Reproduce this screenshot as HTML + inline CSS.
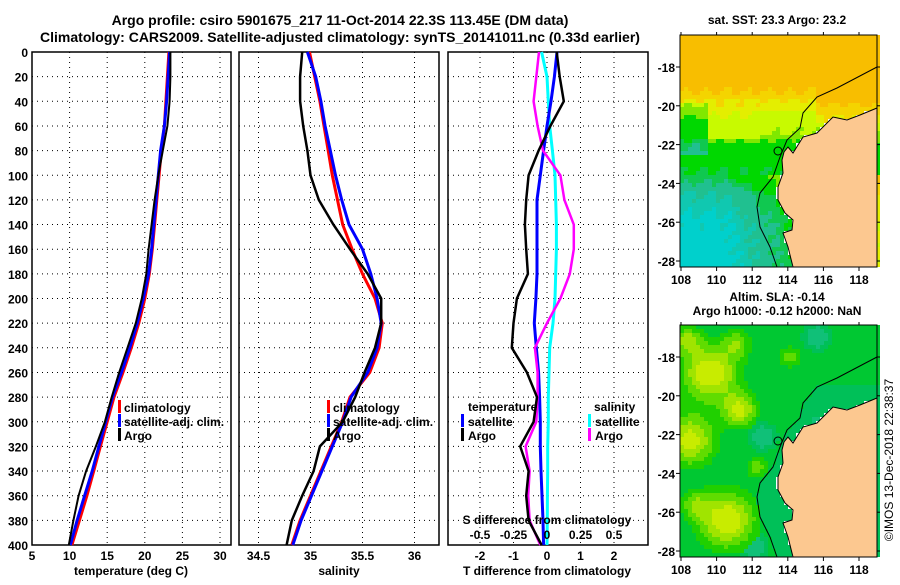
<!DOCTYPE html>
<html><head><meta charset="utf-8"><style>
body{margin:0;background:#fff;width:900px;height:580px;overflow:hidden}
svg text{font-family:"Liberation Sans",sans-serif;font-weight:bold;fill:#000}
</style></head><body>
<svg id="s" width="900" height="580" xmlns="http://www.w3.org/2000/svg">
<text x="340" y="25" font-size="14" text-anchor="middle">Argo profile: csiro 5901675_217 11-Oct-2014 22.3S 113.45E (DM data)</text>
<text x="340" y="42" font-size="14" text-anchor="middle">Climatology: CARS2009. Satellite-adjusted climatology: synTS_20141011.nc (0.33d earlier)</text>
<text x="777" y="24" font-size="12" text-anchor="middle">sat. SST: 23.3 Argo: 23.2</text>
<text x="777" y="301" font-size="12" text-anchor="middle">Altim. SLA: -0.14</text>
<text x="777" y="315" font-size="12" text-anchor="middle">Argo h1000: -0.12 h2000: NaN</text>
<text transform="translate(893,460) rotate(-90)" font-size="12" text-anchor="middle" style="font-weight:normal">©IMOS 13-Dec-2018 22:38:37</text>
</svg>
<script>
const depths=[0,20,40,60,80,100,120,140,160,180,200,220,240,260,280,300,320,340,360,380,400];
const tClim=[23.2,23.0,22.8,22.6,22.2,21.9,21.6,21.3,21.0,20.6,20.0,19.2,18.2,17.1,15.9,15.0,14.1,13.2,12.3,11.3,10.3];
const tSat=[23.3,23.1,22.9,22.6,22.1,21.8,21.5,21.2,20.9,20.5,19.8,19.0,18.0,16.9,15.7,14.8,13.9,13.0,12.0,11.0,10.1];
const tArgo=[23.4,23.4,23.3,23.0,22.4,21.8,21.3,20.9,20.5,20.2,19.6,18.8,17.7,16.6,15.6,14.7,13.5,12.2,11.2,10.5,9.9];
const sClim=[34.99,35.04,35.09,35.13,35.17,35.21,35.26,35.31,35.40,35.50,35.62,35.69,35.66,35.57,35.38,35.30,35.20,35.10,35.00,34.90,34.82];
const sSat=[34.97,35.05,35.10,35.14,35.19,35.24,35.30,35.37,35.50,35.58,35.64,35.68,35.64,35.55,35.39,35.31,35.21,35.11,35.01,34.91,34.83];
const sArgo=[34.92,34.90,34.90,34.93,34.97,35.00,35.08,35.22,35.38,35.55,35.68,35.68,35.62,35.52,35.43,35.31,35.09,35.03,34.92,34.82,34.77];
const dTArgo=[0.29,0.38,0.5,0.1,-0.25,-0.55,-0.62,-0.66,-0.62,-0.57,-0.9,-1.0,-1.05,-0.6,-0.3,-0.4,-0.8,-0.55,-0.62,-0.55,-0.16];
const dTSat=[0.3,0.22,0.12,0.0,-0.1,-0.2,-0.3,-0.3,-0.3,-0.3,-0.33,-0.38,-0.32,-0.25,-0.22,-0.2,-0.2,-0.18,-0.15,-0.12,-0.1];
const dSArgo=[-0.06,-0.08,-0.1,-0.07,-0.03,0.1,0.13,0.2,0.2,0.17,0.1,0.0,-0.09,-0.07,-0.07,-0.08,-0.16,-0.13,-0.14,-0.13,-0.05];
const dSSat=[-0.04,0.0,0.01,0.02,0.04,0.06,0.065,0.07,0.07,0.065,0.06,0.045,0.02,0.015,0.01,0.01,0.005,0.005,0.003,0.002,0.0];
const depthTicks=[0,20,40,60,80,100,120,140,160,180,200,220,240,260,280,300,320,340,360,380,400];
const tTicks=[5,10,15,20,25,30];
const sTicks=[34.5,35,35.5,36];
const dtTicks=[-2,-1,0,1,2];
const dsTicks=[-0.5,-0.25,0,0.25,0.5];
const lonTicks=[108,110,112,114,116,118];
const latTicks=[-18,-20,-22,-24,-26,-28];

const NS='http://www.w3.org/2000/svg';
const svg=document.getElementById('s');
function el(tag,attrs,parent){const e=document.createElementNS(NS,tag);for(const k in attrs)e.setAttribute(k,attrs[k]);(parent||svg).appendChild(e);return e;}
const TOP=52,BOT=545;
const yD=d=>TOP+(d-0)*(BOT-TOP)/400;

function panel(name,x0,x1,xs,ticks,fmt,labels){
  const g=el('g',{});
  
  
  for(const d of depthTicks){ if(d>0&&d<400){const l=el('line',{x1:x0,x2:x1,y1:yD(d),y2:yD(d),stroke:'#000','stroke-width':1,'stroke-dasharray':'1,4'},g);}}
  for(const t of ticks){const x=xs(t); if(x>x0+1&&x<x1-1){const l=el('line',{x1:x,x2:x,y1:TOP,y2:BOT,stroke:'#000','stroke-width':1,'stroke-dasharray':'1,4'},g);}
    if(labels){const tx=el('text',{x:x,y:560,'font-size':12,'text-anchor':'middle'},g);tx.textContent=fmt(t);}}
  const r=el('rect',{x:x0,y:TOP,width:x1-x0,height:BOT-TOP,fill:'none',stroke:'#000','stroke-width':1.5},g);
  
  return g;
}
function line(g,vals,xs,color,w,name){
  const p=el('polyline',{points:vals.map((v,i)=>xs(v).toFixed(1)+','+yD(depths[i]).toFixed(1)).join(' '),fill:'none',stroke:color,'stroke-width':w},g);
  
}
function txt(x,y,s,size,anchor,name,g){const t=el('text',{x:x,y:y,'font-size':size,'text-anchor':anchor||'start'},g);t.textContent=s;return t;}

for(const d of depthTicks){txt(28,yD(d)+5,String(d),12,'end','y-tick-label');}

const xT=t=>32+(t-5)*7.52;
const g1=panel('temperature-panel',32,231,xT,tTicks,String,true);
line(g1,tClim,xT,'#f00',3,'temp-climatology-line');
line(g1,tSat,xT,'#00f',3,'temp-satellite-line');
line(g1,tArgo,xT,'#000',2,'temp-argo-line');
txt(131,575,'temperature (deg C)',12,'middle','x-axis-title-temperature');
function legend(g,x,items){items.forEach((it,i)=>{const y=407+i*14;const r=el('rect',{x:x,y:y-7,width:3,height:13,fill:it[1]},g);txt(x+6,y+5,it[0],12,'start','legend-entry',g);});}
legend(g1,118,[['climatology','#f00'],['satellite-adj. clim.','#00f'],['Argo','#000']]);

const xS=s=>258.5+(s-34.5)*104;
const g2=panel('salinity-panel',239,439,xS,sTicks,String,true);
line(g2,sClim,xS,'#f00',3,'sal-climatology-line');
line(g2,sSat,xS,'#00f',3,'sal-satellite-line');
line(g2,sArgo,xS,'#000',2.5,'sal-argo-line');
txt(339,575,'salinity',12,'middle','x-axis-title-salinity');
legend(g2,327,[['climatology','#f00'],['satellite-adj. clim.','#00f'],['Argo','#000']]);

const xDT=t=>547+t*33.5;
const xDS=s=>547+s*134;
const g3=panel('difference-panel',448,648,xDT,dtTicks,String,true);
line(g3,dSSat,xDS,'#0ff',3,'sal-diff-satellite-line');
line(g3,dTSat,xDT,'#00f',3,'temp-diff-satellite-line');
line(g3,dSArgo,xDS,'#f0f',2.5,'sal-diff-argo-line');
line(g3,dTArgo,xDT,'#000',2.5,'temp-diff-argo-line');
txt(547,575,'T difference from climatology',12,'middle','x-axis-title-t-diff');
txt(547,524,'S difference from climatology',12,'middle','s-diff-axis-title');
for(const s of dsTicks){txt(xDS(s),539,String(s),12,'middle','s-diff-tick-label');}
txt(468,411,'temperature',12,'start','legend-title-temperature',g3);
txt(594,411,'salinity',12,'start','legend-title-salinity',g3);
[['satellite','#00f',461,421],['Argo','#000',461,435],['satellite','#0ff',588,421],['Argo','#f0f',588,435]].forEach(it=>{const r=el('rect',{x:it[2],y:it[3]-7,width:3,height:13,fill:it[1]},g3);txt(it[2]+7,it[3]+5,it[0],12,'start','legend-entry',g3);});

const land=[[197,73],[180,80],[167,85],[153,82],[137,98],[123,102],[113,118],[108,112],[104,117],[102,125],[103,138],[98,152],[98,165],[105,178],[113,185],[112,195],[103,198],[108,212],[113,232],[197,232]];
const contour=[[197,32],[157,53],[137,62],[123,78],[120,93],[107,105],[100,122],[93,142],[80,158],[77,172],[80,192],[90,212],[97,232]];
function inPoly(x,y,P){let c=false;for(let i=0,j=P.length-1;i<P.length;j=i++){const [xi,yi]=P[i],[xj,yj]=P[j];if(((yi>y)!=(yj>y))&&(x<(xj-xi)*(y-yi)/(yj-yi)+xi))c=!c;}return c;}
function contourX(y){for(let i=0;i<contour.length-1;i++){const a=contour[i],b=contour[i+1];if(y>=a[1]&&y<=b[1]){return a[0]+(b[0]-a[0])*(y-a[1])/(b[1]-a[1]);}}return 0;}
const W=197,H=232;
function sstColor(x,y){
  const lat=-16.35-y/19.4, lon=108+(x-1)/17.8;
  let v;
  const L=[[-16.3,4.8],[-19.2,4.3],[-19.8,3.7],[-20.5,3.2],[-21.5,2.9],[-22,2.3],[-23.5,2.0],[-24.5,1.3],[-26,0.9],[-28.5,0.8]];
  for(let i=0;i<L.length-1;i++){if(lat<=L[i][0]&&lat>=L[i+1][0]){v=L[i][1]+(L[i+1][1]-L[i][1])*(L[i][0]-lat)/(L[i][0]-L[i+1][0]);}}
  if(v===undefined)v=0.8;
  if(lat<-19.8&&lat>-22.5){v+= lon<109.5?-0.6:(lon<112.5?0.15:0);}
  if(lat<-23.5){v+=Math.max(0,(lon-110.5))*0.3;}
  if(lon>115.5&&lat>-20.8)v+=0.6;
  v+=0.15*Math.sin(x*0.3+y*0.17)*Math.cos(y*0.23);
  if(x>contourX(y)&&lat<-22)v=Math.max(v,1.6);
  if(v>4.2)return '#f8be00';if(v>3.8)return '#f4d400';if(v>3.4)return '#e4ee00';if(v>2.9)return '#c8fa00';if(v>2.6)return '#80e800';if(v>2.0)return '#00d800';if(v>1.7)return '#10c850';if(v>1.3)return '#20c090';if(v>1.0)return '#10c8b0';return '#00d0cc';
}
const blobs=[[30,48,20,1],[60,85,12,0.85],[10,115,18,0.9],[47,195,20,1],[77,142,8,0.5],[110,32,8,0.5],[7,15,10,0.6],[57,18,10,0.5],[15,180,10,0.5]];
const teal=[[137,12,10],[73,222,10],[83,112,10],[140,100,10]];
function slaColor(x,y){
  let v=0;for(const b of blobs){const d2=((x-b[0])**2+(y-b[1])**2)/(b[2]*b[2]);v+=b[3]*Math.exp(-d2/2);}
  let t=0;for(const b of teal){const d2=((x-b[0])**2+(y-b[1])**2)/(b[2]*b[2]);t+=Math.exp(-d2/2);}
  if(x>contourX(y)&&y>60)t=Math.max(t,0.5);
  if(v>0.8)return '#c8ec00';if(v>0.6)return '#a0e400';if(v>0.4)return '#60dc00';if(v>0.22)return '#20d000';
  if(t>0.6)return '#10c078';if(t>0.3)return '#00c058';return '#00c832';
}
function map(name,ox,oy,colorFn){
  const g=el('g',{transform:`translate(${ox},${oy})`});
  
  const cs=4;
  for(let y=0;y<H;y+=cs)for(let x=0;x<W;x+=cs){
    if(inPoly(x+2,y+2,land))continue;
    el('rect',{x:x,y:y,width:cs,height:cs,fill:colorFn(x+2,y+2)},g);
  }
  const lp=el('polygon',{points:land.map(p=>p.join(',')).join(' '),fill:'#fcc890',stroke:'#000','stroke-width':1},g);
  
  const cp=el('polyline',{points:contour.map(p=>p.join(',')).join(' '),fill:'none',stroke:'#000','stroke-width':1},g);
  
  const c=el('circle',{cx:98,cy:116,r:4,fill:'none',stroke:'#000','stroke-width':1},g);
  
  const fr=el('rect',{x:0,y:0,width:W,height:H,fill:'none',stroke:'#000','stroke-width':1},g);
  
  for(const lon of lonTicks){const x=1+(lon-108)*17.8;el('line',{x1:x,x2:x,y1:H,y2:H+4,stroke:'#000'},g);el('line',{x1:x,x2:x,y1:0,y2:-3,stroke:'#000'},g);txt(x,H+17,String(lon),12,'middle','map-lon-label',g);}
  for(const lat of latTicks){const y=32+(-18-lat)*19.4;el('line',{x1:-4,x2:0,y1:y,y2:y,stroke:'#000'},g);el('line',{x1:W,x2:W+3,y1:y,y2:y,stroke:'#000'},g);txt(-5,y+5,String(lat),12,'end','map-lat-label',g);}
}
map('sst-map',680,35,sstColor);
map('sla-map',680,325,slaColor);
</script>
</body></html>
